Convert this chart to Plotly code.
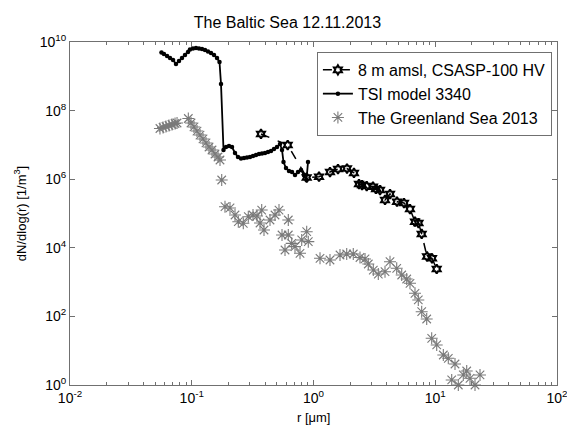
import plotly.graph_objects as go

# CSASP-100 HV, 8 m amsl
csasp_r = [0.3705, 0.6139, 0.8793, 1.110, 1.366, 1.589, 1.884, 2.150, 2.364, 2.503,
           2.735, 3.082, 3.261, 3.518, 3.867, 4.250, 4.851, 5.538, 6.202, 6.818,
           7.285, 7.739, 8.556, 9.404, 10.28]
csasp_n = [2.08e7, 9.93e6, 1.12e6, 1.18e6, 1.62e6, 1.98e6, 2.05e6, 1.52e6, 7.24e5, 6.77e5,
           6.33e5, 6.04e5, 5.18e5, 4.84e5, 2.48e5, 3.70e5, 2.21e5, 2.02e5, 1.35e5, 5.77e4,
           5.28e4, 2.53e4, 5.58e3, 4.94e3, 2.41e3]

# TSI model 3340
tsi_r = [0.0564, 0.0591, 0.0627, 0.0663, 0.0702, 0.0742, 0.0786, 0.0832, 0.0880, 0.0932,
         0.0967, 0.1024, 0.1083, 0.1147, 0.1214, 0.1285, 0.1360, 0.1439, 0.1524, 0.1612,
         0.1690, 0.1739, 0.1823, 0.1911, 0.2023, 0.2141, 0.2266, 0.2399, 0.2539, 0.2687,
         0.2843, 0.3009, 0.3185, 0.3371, 0.3567, 0.3776, 0.3996, 0.4229, 0.4476, 0.4738,
         0.5014, 0.5307, 0.5512, 0.5670, 0.5942, 0.6289, 0.6657, 0.7047, 0.7458, 0.7894,
         0.8356, 0.8760, 0.9012]
tsi_n = [4.94e9, 4.47e9, 3.91e9, 3.42e9, 2.99e9, 2.28e9, 2.79e9, 3.42e9, 4.18e9, 5.11e9,
         6.04e9, 6.47e9, 6.68e9, 6.47e9, 6.25e9, 5.84e9, 5.29e9, 4.78e9, 4.18e9, 3.42e9,
         2.61e9, 5.97e8, 7.10e6, 8.69e6, 9.29e6, 8.69e6, 5.81e6, 4.44e6, 4.01e6, 4.15e6,
         4.29e6, 4.44e6, 4.75e6, 5.08e6, 5.43e6, 5.61e6, 5.81e6, 6.21e6, 6.64e6, 7.60e6,
         8.69e6, 1.06e7, 7.10e6, 3.17e6, 2.12e6, 1.73e6, 1.62e6, 1.33e6, 1.62e6, 1.85e6,
         1.33e6, 9.48e5, 3.17e6]

# The Greenland Sea 2013
gs_r = [0.0548, 0.0581, 0.0614, 0.0650, 0.0688, 0.0729, 0.0757, 0.0937,
        0.0986, 0.1043, 0.1104, 0.1169, 0.1237, 0.1309, 0.1386, 0.1467, 0.1552, 0.1643, 0.1706,
        0.1762,
        0.1875, 0.2062, 0.2266, 0.2412, 0.2651, 0.2914, 0.3185, 0.3435, 0.3754, 0.3636,
        0.3921, 0.4392, 0.4828, 0.5207, 0.6209, 0.5512, 0.6209, 0.6620, 0.5834, 0.7047,
        0.7747, 0.8000, 0.8793, 0.9064,
        1.131, 1.366, 1.651, 1.874, 2.122, 2.409, 2.649, 2.819, 3.099, 3.406,
        3.867, 4.250, 4.825, 5.302, 5.829, 6.202, 6.818, 7.258, 7.739, 8.508,
        9.350, 10.28, 11.65, 12.80, 14.53, 13.65, 15.47, 17.00, 18.13, 19.29,
        21.21, 23.32]
gs_n = [3.01e7, 3.22e7, 3.44e7, 3.68e7, 3.93e7, 4.21e7, 4.35e7, 5.89e7,
        4.35e7, 3.33e7, 2.54e7, 1.94e7, 1.49e7, 1.14e7, 8.69e6, 7.10e6, 5.43e6, 4.44e6, 3.63e6,
        9.48e5,
        1.58e5, 1.45e5, 9.04e4, 5.77e4, 5.18e4, 8.07e4, 9.04e4, 8.46e4, 1.26e5, 5.28e4,
        3.30e4, 6.46e4, 9.04e4, 1.26e5, 6.46e4, 2.36e4, 2.36e4, 1.35e4, 8.63e3, 1.08e4,
        6.91e3, 1.69e4, 2.95e4, 1.51e4,
        4.94e3, 4.41e3, 6.17e3, 6.60e3, 6.60e3, 5.21e3, 4.72e3, 3.37e3, 2.25e3, 1.72e3,
        2.01e3, 3.93e3, 2.53e3, 1.61e3, 1.23e3, 923, 472, 301, 137, 84.0,
        23.0, 14.7, 7.49, 6.00, 4.09, 1.40, 1.0, 1.96, 2.56, 1.57,
        1.0, 1.96]

x_tickvals = [0.01, 0.1, 1, 10, 100]
x_ticktext = ["10<sup>-2</sup>", "10<sup>-1</sup>", "10<sup>0</sup>", "10<sup>1</sup>", "10<sup>2</sup>"]
y_tickvals = [1, 1e2, 1e4, 1e6, 1e8, 1e10]
y_ticktext = ["10<sup>0</sup>", "10<sup>2</sup>", "10<sup>4</sup>", "10<sup>6</sup>", "10<sup>8</sup>", "10<sup>10</sup>"]

FONT = "Liberation Sans, Arial, sans-serif"
AX = "#707070"

fig = go.Figure()
fig.add_trace(go.Scatter(
    x=csasp_r, y=csasp_n, mode="lines+markers", name="8 m amsl, CSASP-100 HV",
    line=dict(color="black", width=1.5, dash="dash"),
    marker=dict(symbol="hexagram-open", size=7, color="black", line=dict(width=2, color="black")),
    cliponaxis=False))
fig.add_trace(go.Scatter(
    x=tsi_r, y=tsi_n, mode="lines+markers", name="TSI model 3340",
    line=dict(color="black", width=1.8),
    marker=dict(symbol="circle", size=4.5, color="black"),
    cliponaxis=False))
fig.add_trace(go.Scatter(
    x=gs_r, y=gs_n, mode="markers", name="The Greenland Sea 2013",
    marker=dict(symbol="asterisk-open", size=10, color="#7a7a7a", line=dict(width=1.1, color="#7a7a7a")),
    cliponaxis=False))
# carrier for the mirrored top axis (minor ticks on top edge)
fig.add_trace(go.Scatter(x=[None], y=[None], xaxis="x2", showlegend=False, hoverinfo="skip"))

axis_common = dict(
    type="log", showgrid=False, zeroline=False, showline=True, linecolor=AX,
    linewidth=1, mirror="ticks", ticks="inside", tickcolor=AX, ticklen=5,
    tickfont=dict(family=FONT, size=14, color="black"), automargin=False,
    ticklabeloverflow="allow",
)

fig.update_layout(
    xaxis=dict(range=[-2.0001, 2.0001], tickvals=x_tickvals, ticktext=x_ticktext,
               minor=dict(ticks="inside", ticklen=3, tickcolor=AX, dtick="D1"),
               **axis_common),
    xaxis2=dict(type="log", range=[-2.0001, 2.0001], overlaying="x", side="top",
                matches="x", showgrid=False, zeroline=False, showline=False,
                tickvals=x_tickvals, showticklabels=False, ticks="inside", tickcolor=AX, ticklen=5,
                minor=dict(ticks="inside", ticklen=3, tickcolor=AX, dtick="D1"),
                automargin=False),
    yaxis=dict(range=[-0.0001, 10.0001], tickvals=y_tickvals, ticktext=y_ticktext,
               title=dict(text="dN/dlog(r) [1/m<sup>3</sup>]",
                          font=dict(family=FONT, size=13, color="black"), standoff=10),
               **axis_common),
    width=567, height=430,
    margin=dict(l=70, r=10, t=42, b=45, autoexpand=False),
    paper_bgcolor="white", plot_bgcolor="white",
    font=dict(family=FONT, size=13, color="black"),
    title=dict(text="The Baltic Sea 12.11.2013", x=0.507, xref="container", xanchor="center",
               y=0.947, yref="container", yanchor="middle",
               font=dict(family=FONT, size=16, color="black")),
    legend=dict(x=0.507, y=0.971, xanchor="left", yanchor="top",
                bgcolor="white", bordercolor=AX, borderwidth=1,
                font=dict(family=FONT, size=16, color="black"),
                tracegroupgap=0, itemwidth=30),
    showlegend=True,
    annotations=[dict(text="r [μm]", xref="paper", yref="paper", x=0.5, y=-0.096,
                      xanchor="center", yanchor="middle", showarrow=False,
                      font=dict(family=FONT, size=13, color="black"))],
)

fig.write_html("out.html", config={"displayModeBar": False})

# remove the browser's default page margin so the figure sits at the window origin
with open("out.html", "r", encoding="utf-8") as f:
    html = f.read()
html = html.replace("<head>", "<head><style>html,body{margin:0;padding:0;overflow:hidden;}</style>", 1)
with open("out.html", "w", encoding="utf-8") as f:
    f.write(html)
